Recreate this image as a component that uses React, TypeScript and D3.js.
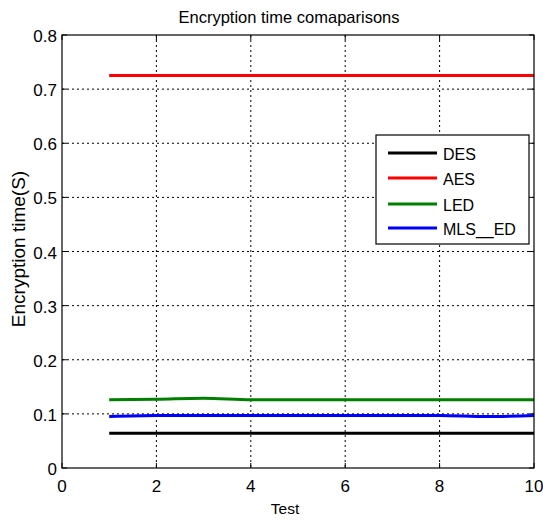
import React from "react";
import * as d3 from "d3";

const tests = [1, 2, 3, 4, 5, 6, 7, 8, 9, 10];
const desTimes = [0.064, 0.064, 0.064, 0.064, 0.064, 0.064, 0.064, 0.064, 0.064, 0.064];
const aesTimes = [0.725, 0.725, 0.725, 0.725, 0.725, 0.725, 0.725, 0.725, 0.725, 0.725];
const ledTimes = [0.126, 0.127, 0.129, 0.126, 0.126, 0.126, 0.126, 0.126, 0.126, 0.126];
const mlsTimes = [0.095, 0.097, 0.097, 0.097, 0.097, 0.097, 0.097, 0.097, 0.095, 0.097];

const xTicks = [0, 2, 4, 6, 8, 10];
const yTicks = [0, 0.1, 0.2, 0.3, 0.4, 0.5, 0.6, 0.7, 0.8];

const series = [
  { name: "DES", color: "#000000", values: desTimes },
  { name: "AES", color: "#ff0000", values: aesTimes },
  { name: "LED", color: "#008000", values: ledTimes },
  { name: "MLS__ED", color: "#0000ff", values: mlsTimes },
];

const W = 543;
const H = 520;
const left = 62;
const right = 534;
const top = 35;
const bottom = 468;
const font = "'Liberation Sans', Arial, sans-serif";

export default function App() {
  const x = d3.scaleLinear().domain([0, 10]).range([left, right]);
  const y = d3.scaleLinear().domain([0, 0.8]).range([bottom, top]);

  const line = d3
    .line<number>()
    .x((d, i) => x(tests[i]))
    .y((d) => y(d))
    .curve(d3.curveMonotoneX);

  const legX = 376;
  const legY = 135;
  const legW = 153;
  const legH = 109;
  const rowY = [153, 178, 204, 228];

  return (
    <svg width={W} height={H} style={{ position: "absolute", left: 0, top: 0, background: "#fff" }}>
      <rect x={0} y={0} width={W} height={H} fill="#fff" />
      {/* grid */}
      {xTicks.slice(1, -1).map((t) => (
        <line key={"gx" + t} x1={x(t)} x2={x(t)} y1={top} y2={bottom} stroke="#000" strokeWidth={1} strokeDasharray="2,3" />
      ))}
      {yTicks.slice(1, -1).map((t) => (
        <line key={"gy" + t} x1={left} x2={right} y1={y(t)} y2={y(t)} stroke="#000" strokeWidth={1} strokeDasharray="2,3" />
      ))}
      {/* ticks inside, both sides */}
      {xTicks.map((t) => (
        <g key={"tx" + t}>
          <line x1={x(t)} x2={x(t)} y1={bottom} y2={bottom - 5} stroke="#000" />
          <line x1={x(t)} x2={x(t)} y1={top} y2={top + 5} stroke="#000" />
          <text x={x(t)} y={bottom + 24} textAnchor="middle" fontFamily={font} fontSize={17} fill="#000">
            {t}
          </text>
        </g>
      ))}
      {yTicks.map((t) => (
        <g key={"ty" + t}>
          <line x1={left} x2={left + 5} y1={y(t)} y2={y(t)} stroke="#000" />
          <line x1={right} x2={right - 5} y1={y(t)} y2={y(t)} stroke="#000" />
          <text x={left - 5} y={y(t) + 7} textAnchor="end" fontFamily={font} fontSize={17} fill="#000">
            {t === 0 ? "0" : d3.format(".1f")(t)}
          </text>
        </g>
      ))}
      {/* data */}
      {series.map((s) => (
        <path key={s.name} d={line(s.values) || ""} fill="none" stroke={s.color} strokeWidth={3} />
      ))}
      {/* axes box */}
      <rect x={left} y={top} width={right - left} height={bottom - top} fill="none" stroke="#000" strokeWidth={1.2} />
      {/* legend */}
      <rect x={legX} y={legY} width={legW} height={legH} fill="#fff" stroke="#000" strokeWidth={1.2} />
      {series.map((s, i) => (
        <g key={"leg" + s.name}>
          <line x1={388} x2={437} y1={rowY[i]} y2={rowY[i]} stroke={s.color} strokeWidth={3} />
          <text x={443} y={rowY[i] + 7} fontFamily={font} fontSize={16} fill="#000">
            {s.name}
          </text>
        </g>
      ))}
      {/* titles */}
      <text x={289} y={23} textAnchor="middle" fontFamily={font} fontSize={16.5} fill="#000">
        Encryption time comaparisons
      </text>
      <text x={285} y={514} textAnchor="middle" fontFamily={font} fontSize={15.5} fill="#000">
        Test
      </text>
      <text
        transform={`translate(25, 249) rotate(-90)`}
        textAnchor="middle"
        fontFamily={font}
        fontSize={19}
        fill="#000"
      >
        Encryption time(S)
      </text>
    </svg>
  );
}
